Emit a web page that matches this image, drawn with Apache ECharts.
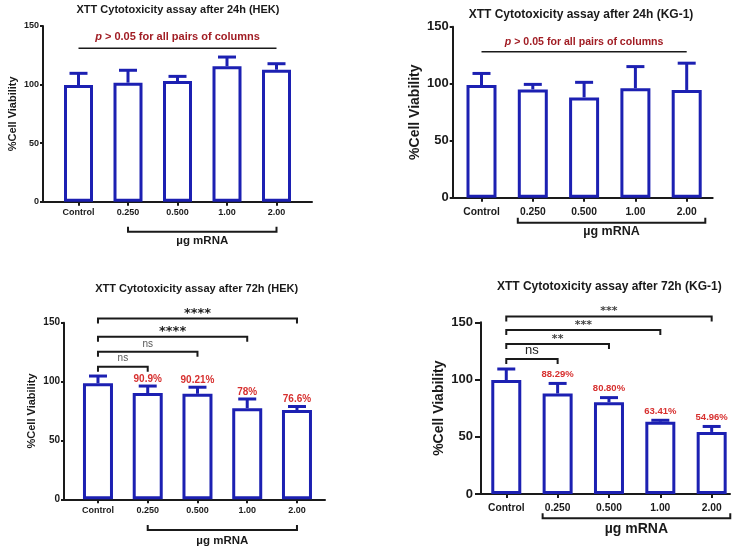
<!DOCTYPE html>
<html><head><meta charset="utf-8">
<script src="https://cdn.jsdelivr.net/npm/echarts@6/dist/echarts.min.js"></script>
<style>html,body{margin:0;padding:0;background:#fff}#c{width:742px;height:551px}</style>
</head><body><div id="c"></div>
<script>
// ---------- DATA ----------
const categories = ['Control', '0.250', '0.500', '1.00', '2.00'];
const titles = [
  'XTT Cytotoxicity assay after 24h (HEK)',
  'XTT Cytotoxicity assay after 24h (KG-1)',
  'XTT Cytotoxicity assay after 72h (HEK)',
  'XTT Cytotoxicity assay after 72h (KG-1)'
];
const yAxisTitle = '%Cell Viability';
const xGroupTitle = 'µg mRNA';
const doseGroup = [1, 4];
const yTicks = [0, 50, 100, 150];

const hek24Mean = [99.6, 101.6, 103.0, 115.6, 112.7];
const hek24Sd   = [10.0, 10.6, 4.0, 7.9, 5.1];
const kg24Mean  = [98.8, 95.0, 88.0, 96.0, 94.5];
const kg24Sd    = [10.2, 4.4, 13.2, 19.0, 23.5];
const hek72Mean = [98.5, 90.2, 89.6, 77.4, 75.8];
const hek72Sd   = [6.2, 6.0, 5.6, 7.8, 3.0];
const kg72Mean  = [99.6, 87.8, 80.1, 63.2, 54.2];
const kg72Sd    = [9.6, 8.8, 4.1, 1.2, 4.8];

const hek72Labels = ['', '90.9%', '90.21%', '78%', '76.6%'];
const kg72Labels  = ['', '88.29%', '80.80%', '63.41%', '54.96%'];

const pNote = 'p > 0.05 for all pairs of columns';
const hek24NoteY = 131;
const kg24NoteY = 128;

const hek72SigTo   = [4, 3, 2, 1];
const hek72SigY    = [153.6, 138, 125.3, 112.6];
const hek72SigText = ['****', '****', 'ns', 'ns'];
const kg72SigTo    = [4, 3, 2, 1];
const kg72SigY     = [155, 143.3, 131.1, 118];
const kg72SigText  = ['***', '***', '**', 'ns'];

// ---------- STYLE / LAYOUT ----------
const FONT = '"Liberation Sans", Arial, sans-serif';
const STARFONT = '"DejaVu Sans", sans-serif';
const BLUE = '#1c20b2';
const BLACK = '#1a1a1a';
const RED = '#d7302f';
const DARKRED = '#a11d24';

const panels = [
  { mean: hek24Mean, sd: hek24Sd, labels: null, note: hek24NoteY, sig: null,
    outer: {left: 43, top: 26, width: 269, height: 175.7}, band: {left: 53.75, width: 247.5},
    title: [178, 10], titleSize: 11, yNameSize: 11, yNameGap: 25, yLabelSize: 9, yTickLen: 3, yLabelMargin: 4,
    xLabelSize: 9, xLabelMargin: 6, barWidth: 29, cap: 18,
    brPad: [0, 0], brOff: 30, brTextOff: 39, mugSize: 11.5, noteSize: 11, noteGap: 11.6 },
  { mean: kg24Mean, sd: kg24Sd, labels: null, note: kg24NoteY, sig: null,
    outer: {left: 452.7, top: 26.7, width: 260, height: 171}, band: {left: 455.85, width: 256.5},
    title: [581, 14.3], titleSize: 12, yNameSize: 14, yNameGap: 31, yLabelSize: 13, yTickLen: 3, yLabelMargin: 4,
    xLabelSize: 10.3, xLabelMargin: 9, barWidth: 30, cap: 18,
    brPad: [-15, 18.6], brOff: 25, brTextOff: 34, mugSize: 12.5, noteSize: 10.6, noteGap: 9.4 },
  { mean: hek72Mean, sd: hek72Sd, labels: hek72Labels, note: null,
    sig: {to: hek72SigTo, y: hek72SigY, text: hek72SigText, starSize: 13, starColor: '#222', starGap: 5, nsSize: 10, nsColor: '#555', nsGap: 8},
    outer: {left: 64, top: 322.7, width: 261, height: 176.6}, band: {left: 73.1, width: 248.75},
    title: [196.7, 289], titleSize: 11, yNameSize: 11, yNameGap: 27, yLabelSize: 10, yTickLen: 3, yLabelMargin: 4,
    xLabelSize: 9, xLabelMargin: 7, barWidth: 30, cap: 18, valSize: 10, valGap: 7,
    brPad: [0, 0], brOff: 30.7, brTextOff: 41.4, mugSize: 11.5 },
  { mean: kg72Mean, sd: kg72Sd, labels: kg72Labels, note: null,
    sig: {to: kg72SigTo, y: kg72SigY, text: kg72SigText, starSize: 11, starColor: '#444', starGap: 5, nsSize: 13, nsColor: '#222', nsGap: 9},
    outer: {left: 481, top: 322.3, width: 249, height: 171.7}, band: {left: 480.6, width: 256.75},
    title: [609.3, 286.7], titleSize: 12, yNameSize: 14, yNameGap: 35, yLabelSize: 13, yTickLen: 6, yLabelMargin: 8,
    xLabelSize: 10.3, xLabelMargin: 9, barWidth: 30, cap: 18, valSize: 9.5, valGap: 9,
    brPad: [-15, 18.6], brOff: 24.3, brTextOff: 35.3, mugSize: 14 }
];

const option = {
  animation: false,
  backgroundColor: '#fff',
  title: [], grid: [], xAxis: [], yAxis: [], series: []
};

panels.forEach((p, k) => {
  const go = 2 * k, gi = 2 * k + 1;
  option.title.push({
    text: titles[k], left: p.title[0], top: p.title[1], textAlign: 'center', textVerticalAlign: 'middle',
    padding: 0, textStyle: {fontFamily: FONT, fontWeight: 'bold', fontSize: p.titleSize, color: BLACK}
  });
  option.grid.push({left: p.outer.left, top: p.outer.top, width: p.outer.width, height: p.outer.height});
  option.grid.push({left: p.band.left, top: p.outer.top, width: p.band.width, height: p.outer.height});
  // outer axes (frame)
  option.xAxis.push({type: 'value', gridIndex: go, min: 0, max: 1,
    axisLine: {show: true, lineStyle: {color: BLACK, width: 2}},
    axisTick: {show: false}, axisLabel: {show: false}, splitLine: {show: false}});
  option.yAxis.push({type: 'value', gridIndex: go, min: yTicks[0], max: yTicks[yTicks.length - 1], interval: yTicks[1] - yTicks[0],
    name: yAxisTitle, nameLocation: 'middle', nameRotate: 90, nameGap: p.yNameGap,
    nameTextStyle: {fontFamily: FONT, fontWeight: 'bold', fontSize: p.yNameSize, color: BLACK},
    axisLine: {show: true, lineStyle: {color: BLACK, width: 2}},
    axisTick: {show: true, length: p.yTickLen, lineStyle: {color: BLACK, width: 2}},
    axisLabel: {fontFamily: FONT, fontWeight: 'bold', fontSize: p.yLabelSize, color: BLACK, margin: p.yLabelMargin},
    splitLine: {show: false}});
  // inner axes (bars)
  option.xAxis.push({type: 'category', gridIndex: gi, data: categories,
    axisLine: {show: false},
    axisTick: {show: true, alignWithLabel: true, length: 4, lineStyle: {color: BLACK, width: 2}},
    axisLabel: {fontFamily: FONT, fontWeight: 'bold', fontSize: p.xLabelSize, color: BLACK, margin: p.xLabelMargin},
    splitLine: {show: false}});
  option.yAxis.push({type: 'value', gridIndex: gi, show: false, min: yTicks[0], max: yTicks[yTicks.length - 1]});

  option.series.push({
    type: 'bar', xAxisIndex: gi, yAxisIndex: gi, data: p.mean, barWidth: p.barWidth, z: 2,
    itemStyle: {color: '#fff', borderColor: BLUE, borderWidth: 3}
  });
  // error bars (+ value labels)
  option.series.push({
    type: 'custom', xAxisIndex: gi, yAxisIndex: gi, z: 3,
    data: p.mean.map((m, i) => [i, m, p.sd[i]]),
    renderItem: (params, api) => {
      const i = api.value(0), m = api.value(1), s = api.value(2);
      const b = api.coord([i, m]), t = api.coord([i, m + s]);
      const ch = [
        {type: 'line', shape: {x1: b[0], y1: b[1], x2: t[0], y2: t[1]}, style: {stroke: BLUE, lineWidth: 3}},
        {type: 'line', shape: {x1: t[0] - p.cap / 2, y1: t[1], x2: t[0] + p.cap / 2, y2: t[1]}, style: {stroke: BLUE, lineWidth: 3}}
      ];
      if (p.labels && p.labels[i]) {
        ch.push({type: 'text', x: t[0], y: t[1] - p.valGap, style: {text: p.labels[i], fill: RED,
          font: 'bold ' + p.valSize + 'px ' + FONT, align: 'center', verticalAlign: 'middle'}});
      }
      return {type: 'group', children: ch};
    }
  });
  // µg mRNA bracket
  option.series.push({
    type: 'custom', xAxisIndex: gi, yAxisIndex: gi, z: 3, clip: false,
    data: [[doseGroup[0], doseGroup[1]]],
    renderItem: (params, api) => {
      const a = api.coord([api.value(0), 0]), c = api.coord([api.value(1), 0]);
      const x0 = a[0] + p.brPad[0], x1 = c[0] + p.brPad[1], y = a[1] + p.brOff;
      return {type: 'group', children: [
        {type: 'polyline', shape: {points: [[x0, y - 5], [x0, y], [x1, y], [x1, y - 5]]}, style: {stroke: BLACK, lineWidth: 2, fill: null}},
        {type: 'text', x: (x0 + x1) / 2, y: a[1] + p.brTextOff, style: {text: xGroupTitle, fill: BLACK,
          font: 'bold ' + p.mugSize + 'px ' + FONT, align: 'center', verticalAlign: 'middle'}}
      ]};
    }
  });
  // p-value note
  if (p.note !== null) {
    option.series.push({
      type: 'custom', xAxisIndex: gi, yAxisIndex: gi, z: 3, clip: false,
      data: [[0, categories.length - 1, p.note]],
      renderItem: (params, api) => {
        const a = api.coord([api.value(0), api.value(2)]), c = api.coord([api.value(1), api.value(2)]);
        return {type: 'group', children: [
          {type: 'line', shape: {x1: a[0], y1: a[1], x2: c[0], y2: c[1]}, style: {stroke: BLACK, lineWidth: 1.5}},
          {type: 'text', x: (a[0] + c[0]) / 2, y: a[1] - p.noteGap, style: {
            rich: {i: {fontStyle: 'italic', fontWeight: 'bold', fontSize: p.noteSize, fontFamily: FONT, fill: DARKRED, color: DARKRED},
                   n: {fontWeight: 'bold', fontSize: p.noteSize, fontFamily: FONT, fill: DARKRED, color: DARKRED}},
            text: '{i|' + pNote.slice(0, 1) + '}{n|' + pNote.slice(1) + '}',
            align: 'center', verticalAlign: 'middle'}}
        ]};
      }
    });
  }
  // significance brackets
  if (p.sig) {
    option.series.push({
      type: 'custom', xAxisIndex: gi, yAxisIndex: gi, z: 3, clip: false,
      data: p.sig.to.map((to, j) => [0, to, p.sig.y[j], j]),
      renderItem: (params, api) => {
        const a = api.coord([api.value(0), api.value(2)]), c = api.coord([api.value(1), api.value(2)]);
        const txt = p.sig.text[api.value(3)];
        const star = txt.indexOf('*') >= 0;
        const ts = star
          ? {text: txt, fill: p.sig.starColor, font: 'bold ' + p.sig.starSize + 'px ' + STARFONT, align: 'center', verticalAlign: 'middle'}
          : {text: txt, fill: p.sig.nsColor, font: p.sig.nsSize + 'px ' + FONT, align: 'center', verticalAlign: 'middle'};
        return {type: 'group', children: [
          {type: 'polyline', shape: {points: [[a[0], a[1] + 5], [a[0], a[1]], [c[0], c[1]], [c[0], c[1] + 5]]}, style: {stroke: BLACK, lineWidth: 2, fill: null}},
          {type: 'text', x: (a[0] + c[0]) / 2, y: a[1] - (star ? p.sig.starGap : p.sig.nsGap), style: ts}
        ]};
      }
    });
  }
});

const chart = echarts.init(document.getElementById('c'), null, {renderer: 'canvas'});
chart.setOption(option);
</script></body></html>
